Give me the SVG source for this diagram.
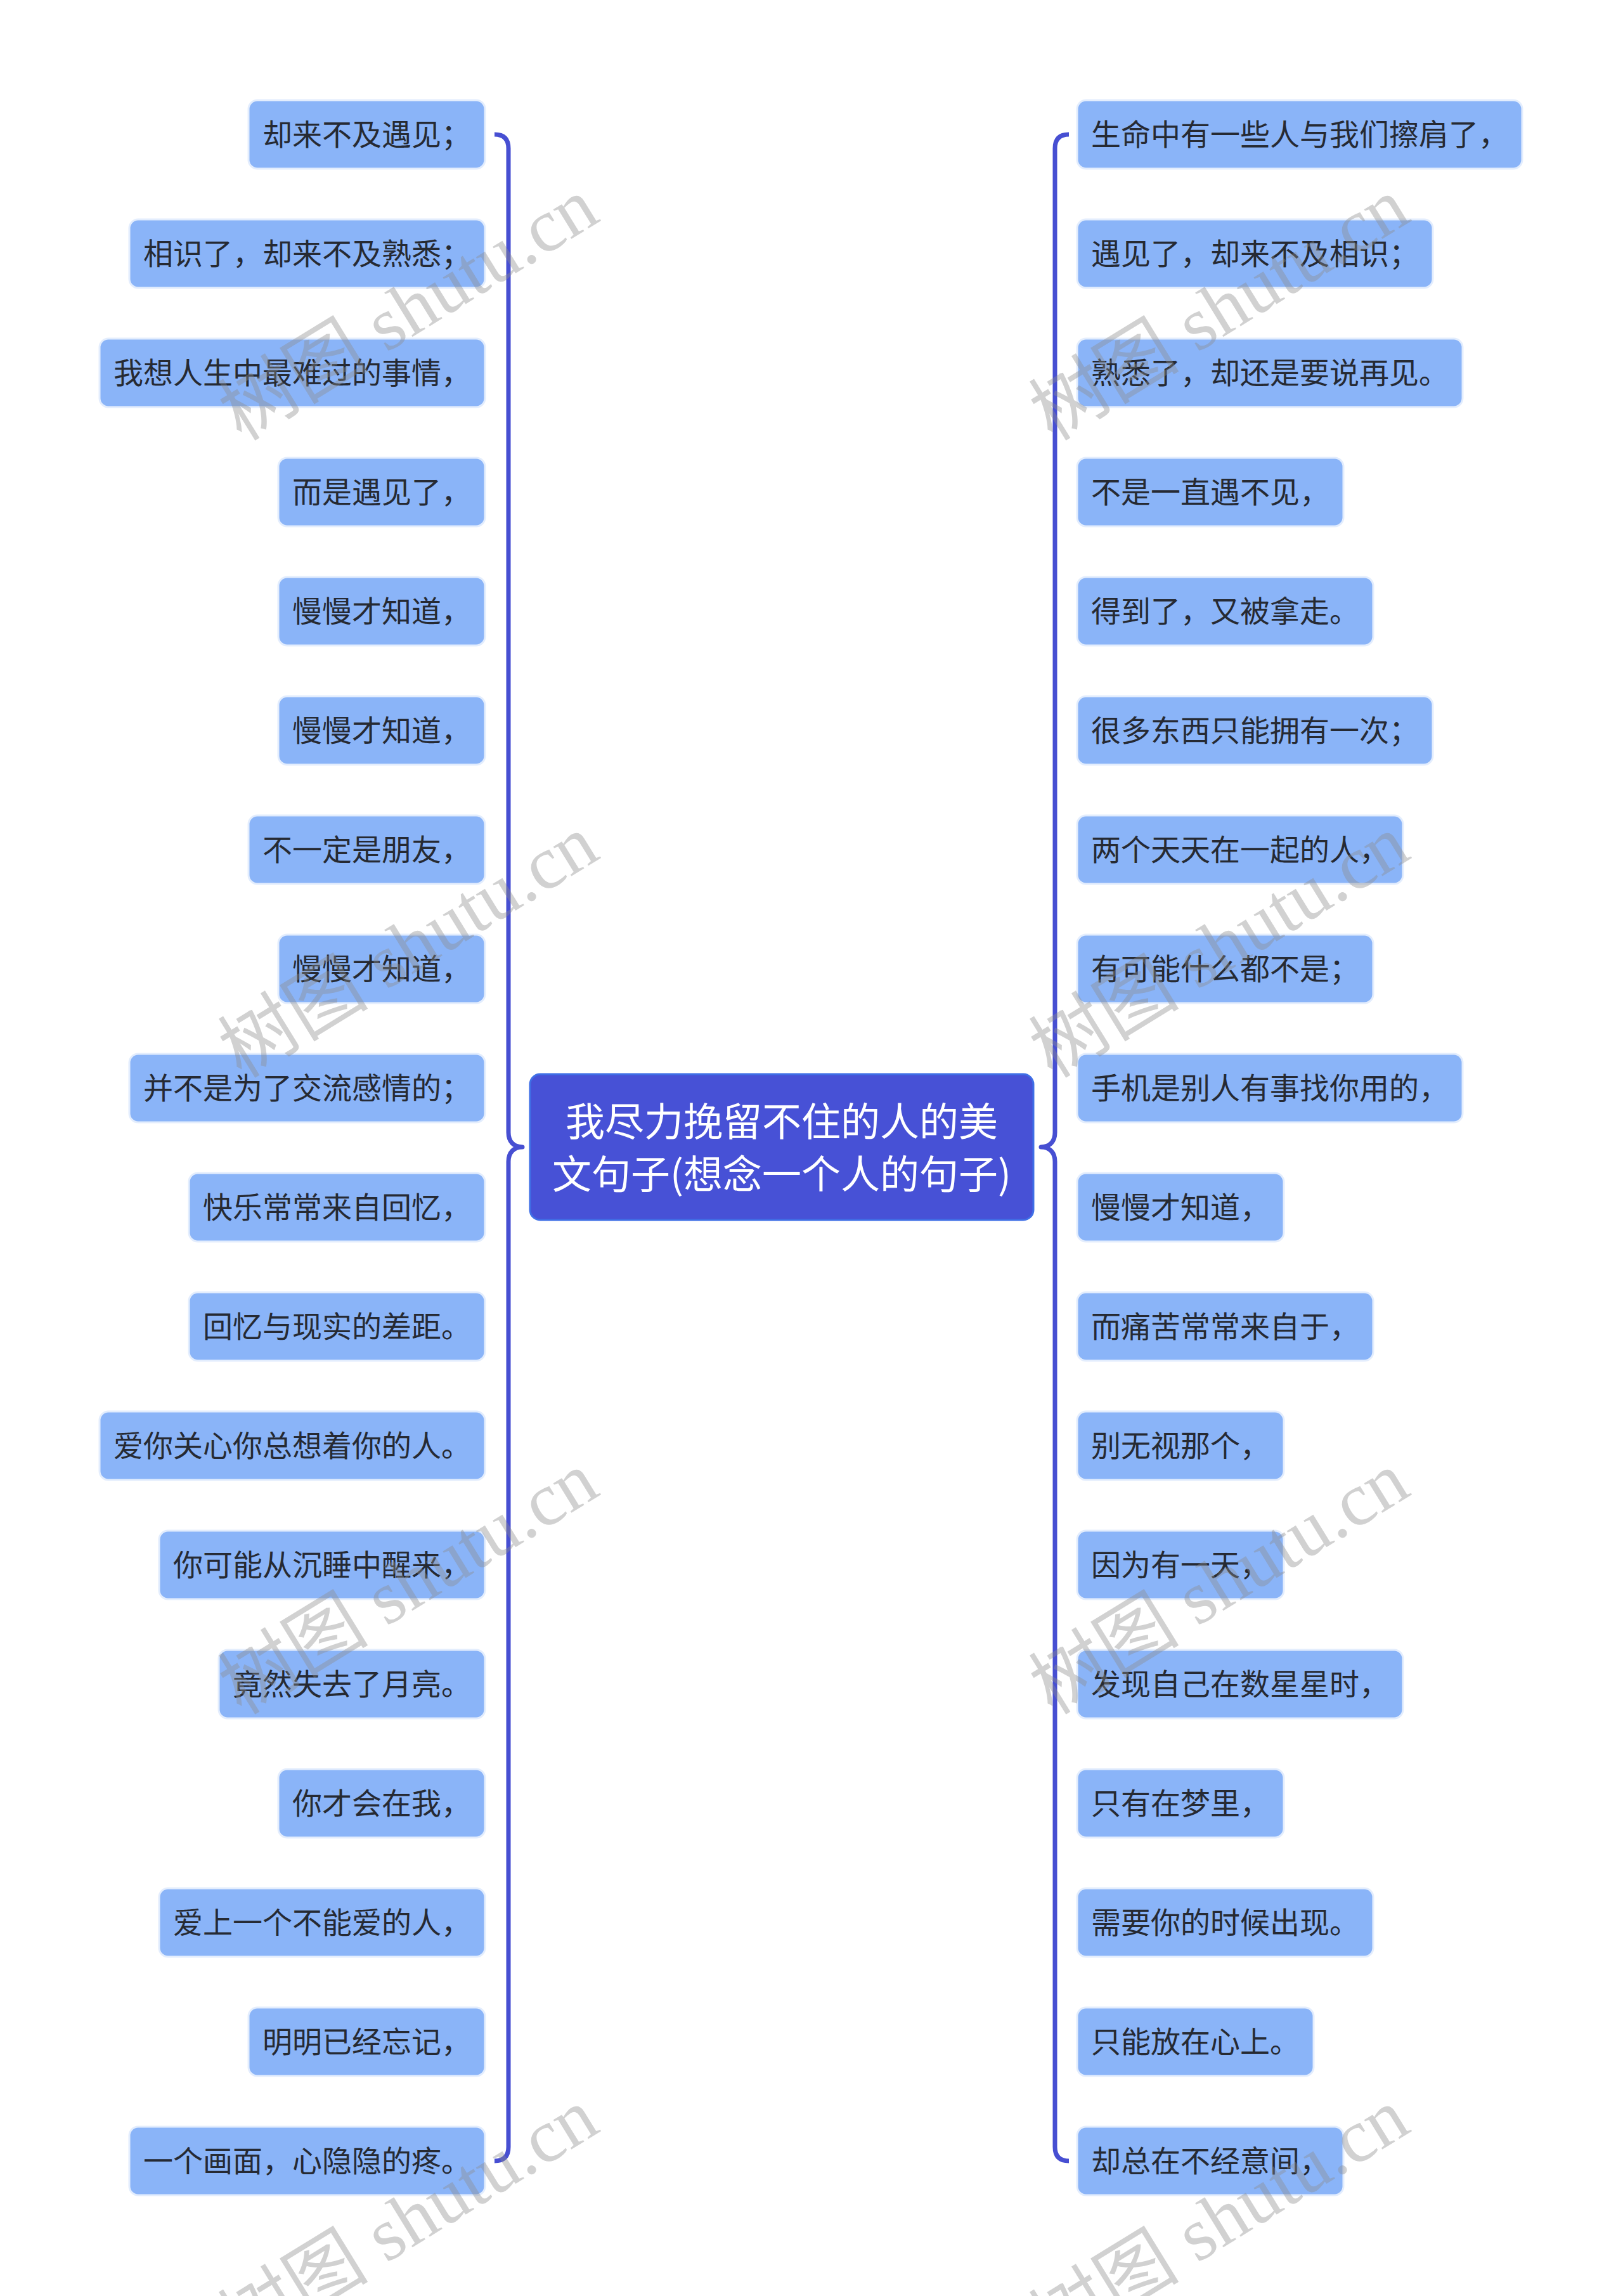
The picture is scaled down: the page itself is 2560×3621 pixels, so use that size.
<svg xmlns="http://www.w3.org/2000/svg" width="2560" height="3621" viewBox="0 0 2560 3621">
<style>
.bg{fill:#ffffff}
.node rect{fill:#8ab4f8;stroke:#e3edfd;stroke-width:3}
.node text{font-family:"Noto Sans CJK SC","Noto Sans",sans-serif;font-size:47px;fill:#262a33}
.root rect{fill:#4751d6;stroke:#3f6fe6;stroke-width:3}
.root text{font-family:"Noto Sans CJK SC","Noto Sans",sans-serif;font-size:62px;fill:#ffffff;text-anchor:middle}
.conn{fill:none;stroke:#474fd2;stroke-width:7;stroke-linecap:butt;stroke-linejoin:round}
.wm{font-family:"Liberation Serif","Noto Sans CJK SC",serif;font-size:119px;fill:#8c8c8c;fill-opacity:0.4}
</style>
<rect class="bg" x="0" y="0" width="2560" height="3621"/>

<g id="connectors">
  <path class="conn" d="M 780 212 Q 802 212 802 234 L 802 1786 C 802 1800 810 1809 824 1809 C 810 1809 802 1818 802 1832 L 802 3386 Q 802 3408 780 3408"/>
  <path class="conn" d="M 1686 212 Q 1664 212 1664 234 L 1664 1786 C 1664 1800 1656 1809 1642 1809 C 1656 1809 1664 1818 1664 1832 L 1664 3386 Q 1664 3408 1686 3408"/>
</g>

<g id="root" class="root">
  <rect x="836" y="1694" width="794" height="230" rx="16" ry="16"/>
  <text x="1233" y="1792">我尽力挽留不住的人的美</text>
  <text x="1233" y="1875">文句子(想念一个人的句子)</text>
</g>

<g id="left-nodes">
  <g id="L1" class="node"><rect x="392" y="158" width="373" height="108" rx="14"/><text x="414" y="229">却来不及遇见；</text></g>
  <g id="L2" class="node"><rect x="204" y="346" width="561" height="108" rx="14"/><text x="226" y="417">相识了，却来不及熟悉；</text></g>
  <g id="L3" class="node"><rect x="157" y="534" width="608" height="108" rx="14"/><text x="179" y="605">我想人生中最难过的事情，</text></g>
  <g id="L4" class="node"><rect x="439" y="722" width="326" height="108" rx="14"/><text x="461" y="793">而是遇见了，</text></g>
  <g id="L5" class="node"><rect x="439" y="910" width="326" height="108" rx="14"/><text x="461" y="981">慢慢才知道，</text></g>
  <g id="L6" class="node"><rect x="439" y="1098" width="326" height="108" rx="14"/><text x="461" y="1169">慢慢才知道，</text></g>
  <g id="L7" class="node"><rect x="392" y="1286" width="373" height="108" rx="14"/><text x="414" y="1357">不一定是朋友，</text></g>
  <g id="L8" class="node"><rect x="439" y="1474" width="326" height="108" rx="14"/><text x="461" y="1545">慢慢才知道，</text></g>
  <g id="L9" class="node"><rect x="204" y="1662" width="561" height="108" rx="14"/><text x="226" y="1733">并不是为了交流感情的；</text></g>
  <g id="L10" class="node"><rect x="298" y="1850" width="467" height="108" rx="14"/><text x="320" y="1921">快乐常常来自回忆，</text></g>
  <g id="L11" class="node"><rect x="298" y="2038" width="467" height="108" rx="14"/><text x="320" y="2109">回忆与现实的差距。</text></g>
  <g id="L12" class="node"><rect x="157" y="2226" width="608" height="108" rx="14"/><text x="179" y="2297">爱你关心你总想着你的人。</text></g>
  <g id="L13" class="node"><rect x="251" y="2414" width="514" height="108" rx="14"/><text x="273" y="2485">你可能从沉睡中醒来，</text></g>
  <g id="L14" class="node"><rect x="345" y="2602" width="420" height="108" rx="14"/><text x="367" y="2673">竟然失去了月亮。</text></g>
  <g id="L15" class="node"><rect x="439" y="2790" width="326" height="108" rx="14"/><text x="461" y="2861">你才会在我，</text></g>
  <g id="L16" class="node"><rect x="251" y="2978" width="514" height="108" rx="14"/><text x="273" y="3049">爱上一个不能爱的人，</text></g>
  <g id="L17" class="node"><rect x="392" y="3166" width="373" height="108" rx="14"/><text x="414" y="3237">明明已经忘记，</text></g>
  <g id="L18" class="node"><rect x="204" y="3354" width="561" height="108" rx="14"/><text x="226" y="3425">一个画面，心隐隐的疼。</text></g>
</g>

<g id="right-nodes">
  <g id="R1" class="node"><rect x="1699" y="158" width="702" height="108" rx="14"/><text x="1721" y="229">生命中有一些人与我们擦肩了，</text></g>
  <g id="R2" class="node"><rect x="1699" y="346" width="561" height="108" rx="14"/><text x="1721" y="417">遇见了，却来不及相识；</text></g>
  <g id="R3" class="node"><rect x="1699" y="534" width="608" height="108" rx="14"/><text x="1721" y="605">熟悉了，却还是要说再见。</text></g>
  <g id="R4" class="node"><rect x="1699" y="722" width="420" height="108" rx="14"/><text x="1721" y="793">不是一直遇不见，</text></g>
  <g id="R5" class="node"><rect x="1699" y="910" width="467" height="108" rx="14"/><text x="1721" y="981">得到了，又被拿走。</text></g>
  <g id="R6" class="node"><rect x="1699" y="1098" width="561" height="108" rx="14"/><text x="1721" y="1169">很多东西只能拥有一次；</text></g>
  <g id="R7" class="node"><rect x="1699" y="1286" width="514" height="108" rx="14"/><text x="1721" y="1357">两个天天在一起的人，</text></g>
  <g id="R8" class="node"><rect x="1699" y="1474" width="467" height="108" rx="14"/><text x="1721" y="1545">有可能什么都不是；</text></g>
  <g id="R9" class="node"><rect x="1699" y="1662" width="608" height="108" rx="14"/><text x="1721" y="1733">手机是别人有事找你用的，</text></g>
  <g id="R10" class="node"><rect x="1699" y="1850" width="326" height="108" rx="14"/><text x="1721" y="1921">慢慢才知道，</text></g>
  <g id="R11" class="node"><rect x="1699" y="2038" width="467" height="108" rx="14"/><text x="1721" y="2109">而痛苦常常来自于，</text></g>
  <g id="R12" class="node"><rect x="1699" y="2226" width="326" height="108" rx="14"/><text x="1721" y="2297">别无视那个，</text></g>
  <g id="R13" class="node"><rect x="1699" y="2414" width="326" height="108" rx="14"/><text x="1721" y="2485">因为有一天，</text></g>
  <g id="R14" class="node"><rect x="1699" y="2602" width="514" height="108" rx="14"/><text x="1721" y="2673">发现自己在数星星时，</text></g>
  <g id="R15" class="node"><rect x="1699" y="2790" width="326" height="108" rx="14"/><text x="1721" y="2861">只有在梦里，</text></g>
  <g id="R16" class="node"><rect x="1699" y="2978" width="467" height="108" rx="14"/><text x="1721" y="3049">需要你的时候出现。</text></g>
  <g id="R17" class="node"><rect x="1699" y="3166" width="373" height="108" rx="14"/><text x="1721" y="3237">只能放在心上。</text></g>
  <g id="R18" class="node"><rect x="1699" y="3354" width="420" height="108" rx="14"/><text x="1721" y="3425">却总在不经意间，</text></g>
</g>

<g id="watermarks" class="wm">
  <text transform="translate(381 697) rotate(-31.6)">树图 shutu.cn</text>
  <text transform="translate(1660 697) rotate(-31.6)">树图 shutu.cn</text>
  <text transform="translate(381 1702) rotate(-31.6)">树图 shutu.cn</text>
  <text transform="translate(1660 1702) rotate(-31.6)">树图 shutu.cn</text>
  <text transform="translate(381 2706) rotate(-31.6)">树图 shutu.cn</text>
  <text transform="translate(1660 2706) rotate(-31.6)">树图 shutu.cn</text>
  <text transform="translate(381 3710) rotate(-31.6)">树图 shutu.cn</text>
  <text transform="translate(1660 3710) rotate(-31.6)">树图 shutu.cn</text>
</g>
</svg>
